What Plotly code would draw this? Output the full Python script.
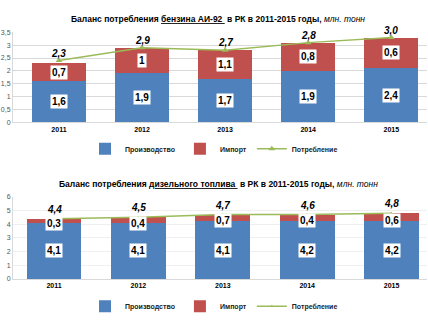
import plotly.graph_objects as go

years = ["2011", "2012", "2013", "2014", "2015"]

# Petrol AI-92 (bar heights as drawn) and printed labels
pet_prod = [1.6, 1.9, 1.7, 2.0, 2.1]
pet_imp = [0.7, 1.0, 1.1, 1.1, 1.2]
pet_cons = [2.4, 2.9, 2.8, 3.1, 3.3]
pet_prod_lbl = ["1,6", "1,9", "1,7", "1,9", "2,4"]
pet_imp_lbl = ["0,7", "1", "1,1", "0,8", "0,6"]
pet_cons_lbl = ["2,3", "2,9", "2,7", "2,8", "3,0"]

# Diesel
dsl_prod = [4.1, 4.1, 4.2, 4.2, 4.2]
dsl_imp = [0.3, 0.4, 0.5, 0.5, 0.6]
dsl_cons = [4.4, 4.5, 4.7, 4.7, 4.8]
dsl_prod_lbl = ["4,1", "4,1", "4,1", "4,2", "4,2"]
dsl_imp_lbl = ["0,3", "0,4", "0,7", "0,4", "0,6"]
dsl_cons_lbl = ["4,4", "4,5", "4,7", "4,6", "4,8"]

BLUE = "#4F81BD"
RED = "#C0504D"
GREEN = "#9BBB59"
FONT = "Liberation Sans"

x = list(range(len(years)))

fig = go.Figure()

def add_block(prod, imp, cons, xa, ya, leg, show_markers):
    fig.add_trace(go.Bar(x=x, y=prod, name="<b>Производство</b>", marker_color=BLUE,
                         marker_line_width=0, xaxis=xa, yaxis=ya, legend=leg, width=0.65))
    fig.add_trace(go.Bar(x=x, y=imp, name="<b>Импорт</b>", marker_color=RED,
                         marker_line_width=0, xaxis=xa, yaxis=ya, legend=leg, width=0.65))
    fig.add_trace(go.Scatter(x=x, y=cons, name="<b>Потребление</b>", mode="lines+markers",
                             line=dict(color=GREEN, width=1.5),
                             marker=dict(symbol="triangle-up", size=6 if show_markers else 3, color=GREEN),
                             xaxis=xa, yaxis=ya, legend=leg))

add_block(pet_prod, pet_imp, pet_cons, "x", "y", "legend", True)
add_block(dsl_prod, dsl_imp, dsl_cons, "x2", "y2", "legend2", False)

ann = []
def add_labels(prod, imp, cons, pl, il, cl, xr, yr, imp_shift, cons_shift):
    for i in range(len(x)):
        ann.append(dict(x=x[i], y=prod[i] / 2, xref=xr, yref=yr, text="<b>%s</b>" % pl[i],
                        showarrow=False, bgcolor="white", borderpad=1,
                        font=dict(family=FONT, size=10, color="black")))
        ann.append(dict(x=x[i], y=prod[i] + imp[i] / 2, xref=xr, yref=yr, text="<b>%s</b>" % il[i],
                        showarrow=False, bgcolor="white", borderpad=1, yshift=imp_shift,
                        font=dict(family=FONT, size=10, color="black")))
        ann.append(dict(x=x[i], y=cons[i], xref=xr, yref=yr, text="<b><i>%s</i></b>" % cl[i],
                        showarrow=False, yanchor="bottom", yshift=cons_shift,
                        font=dict(family=FONT, size=10, color="black")))

add_labels(pet_prod, pet_imp, pet_cons, pet_prod_lbl, pet_imp_lbl, pet_cons_lbl, "x", "y", 0, 0)
add_labels(dsl_prod, dsl_imp, dsl_cons, dsl_prod_lbl, dsl_imp_lbl, dsl_cons_lbl, "x2", "y2", -3, 2)

ann.append(dict(x=218 / 428, y=1 - 15 / 325, xref="paper", yref="paper", showarrow=False,
                xanchor="center", yanchor="middle",
                text="<b>Баланс потребления <u>бензина АИ-92 </u> в РК в 2011-2015 годы,</b> <i>млн. тонн</i>",
                font=dict(family=FONT, size=8.5, color="black")))
ann.append(dict(x=218 / 428, y=1 - 184 / 325, xref="paper", yref="paper", showarrow=False,
                xanchor="center", yanchor="middle",
                text="<b>Баланс потребления <u>дизельного топлива </u> в РК в 2011-2015 годы,</b> <i>млн. тонн</i>",
                font=dict(family=FONT, size=8.5, color="black")))

axis_common = dict(tickmode="array", tickvals=x, ticktext=["<b>%s</b>" % y for y in years],
                   tickfont=dict(family=FONT, size=7, color="black"), showgrid=False,
                   zeroline=False, showline=True, linecolor="#D9D9D9", ticks="")

leg_common = dict(orientation="h", x=0.5, xanchor="center", yanchor="middle",
                  font=dict(family=FONT, size=7, color="#222222"), itemwidth=30,
                  traceorder="normal", bgcolor="rgba(0,0,0,0)")

fig.update_layout(
    width=428, height=325, margin=dict(l=0, r=0, t=0, b=0),
    paper_bgcolor="white", plot_bgcolor="white",
    barmode="stack", separators=", ",
    font=dict(family=FONT),
    xaxis=dict(domain=[13 / 428, 427 / 428], range=[-0.553, 4.43], anchor="y", **axis_common),
    yaxis=dict(domain=[1 - 120.7 / 325, 1 - 29 / 325], range=[0, 3.5], dtick=0.5,
               tickformat=".1~f", showgrid=True, gridcolor="#D9D9D9", gridwidth=1,
               zeroline=False, showline=True, linecolor="#D9D9D9",
               tickfont=dict(family=FONT, size=7, color="#555555"), anchor="x"),
    xaxis2=dict(domain=[13 / 428, 427 / 428], range=[-0.486, 4.42], anchor="y2", **axis_common),
    yaxis2=dict(domain=[1 - 281 / 325, 1 - 197 / 325], range=[0, 6], dtick=1,
                showgrid=True, gridcolor="#EFEFEF", gridwidth=1,
                zeroline=False, showline=True, linecolor="#D9D9D9",
                tickfont=dict(family=FONT, size=7, color="#555555"), anchor="x2"),
    legend=dict(y=1 - 148 / 325, **leg_common),
    legend2=dict(y=1 - 309 / 325, **leg_common),
    annotations=ann,
    showlegend=True,
)

fig.write_html("out.html")
